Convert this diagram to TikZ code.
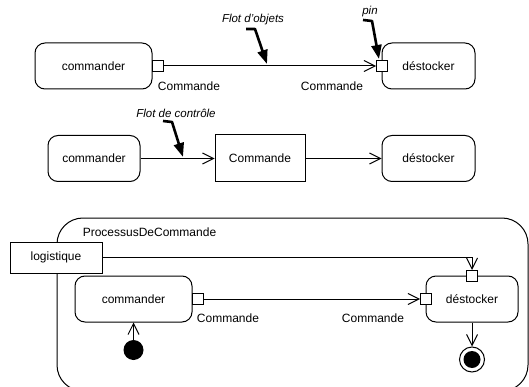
\documentclass[tikz,border=0pt]{standalone}
\usepackage{fontspec}
\setmainfont{Liberation Sans}
\usetikzlibrary{arrows.meta}
\begin{document}
\begin{tikzpicture}[x=1pt,y=-1pt,
  font=\fontsize{12}{14}\selectfont,
  action/.style={draw, line width=1pt, rounded corners=10pt,
    minimum width=#1, minimum height=46pt, inner sep=0pt},
  objbox/.style={draw, line width=1pt, minimum width=90pt,
    minimum height=47pt, inner sep=0pt},
  pinbox/.style={draw, fill=white, line width=1pt, minimum size=11pt, inner sep=0pt},
  flow/.style={line width=1pt, -{Straight Barb[length=11pt,width=11pt,line width=1pt]}},
  callout/.style={line width=2.6pt, line join=round,
    -{Triangle[length=14pt,width=10pt]}},
  note/.style={font=\fontsize{11.5}{13}\selectfont\itshape, inner sep=0pt},
  lbl/.style={inner sep=0pt}]
\useasboundingbox (0,0) rectangle (529,387);

% --- object flow between two pins
\node[action=117pt] (c1) at (93.5,66) {commander};
\node[pinbox] (c1out) at (157.5,66) {};
\node[action=93pt] (d1) at (428.5,66) {déstocker};
\node[pinbox] (d1in) at (382,66) {};
\draw[flow] (c1out.east) -- (d1in.west);
\node[lbl] (c1lbl) at (189,86) {Commande};
\node[lbl] (d1lbl) at (332,86) {Commande};

\node[note] (n1) at (253,20) {Flot d'objets};
\coordinate (n1s) at (246,29);
\coordinate (n1t) at (267,64);
\draw[callout] (n1s) -- (255,29) -- (n1t);

\node[note] (n2) at (370,12) {pin};
\coordinate (n2s) at (363,20);
\coordinate (n2t) at (379,59);
\draw[callout] (n2s) -- (372,21) -- (n2t);

% --- control flow through an object node
\node[action=92pt] (c2) at (94,158.5) {commander};
\node[objbox] (k2) at (260,158.5) {Commande};
\node[action=93pt] (d2) at (428.5,158.5) {déstocker};
\draw[flow] (c2.east) -- (k2.west);
\draw[flow] (k2.east) -- (d2.west);

\node[note] (n3) at (176,113) {Flot de contrôle};
\coordinate (n3s) at (163,121);
\coordinate (n3t) at (183,157);
\draw[callout] (n3s) -- (172,122) -- (n3t);

% --- activity with parameter
\draw[line width=1pt, rounded corners=26pt] (57,218) rectangle (528,391);
\node[lbl] (proc) at (149.5,232) {ProcessusDeCommande};
\node[objbox, fill=white, minimum width=92pt, minimum height=31pt] (lg) at (56,257.5) {logistique};

\node[action=117pt] (c3) at (133.5,299) {commander};
\node[pinbox] (c3out) at (198,299) {};
\node[action=92pt] (d3) at (472,299) {déstocker};
\node[pinbox] (d3in) at (426,299) {};
\node[pinbox] (d3top) at (472,276) {};
\draw[flow] (c3out.east) -- (d3in.west);
\node[lbl] (c3lbl) at (228,318) {Commande};
\node[lbl] (d3lbl) at (373,318) {Commande};
\draw[flow] (lg.east) -| (d3top.north);

\node[circle, fill=black, minimum size=20pt, inner sep=0pt] (ini) at (133.5,350) {};
\draw[flow] (ini.north) -- (c3.south);

\node[circle, draw, line width=1pt, minimum size=25pt, inner sep=0pt] (fin) at (472,359.5) {};
\node[circle, fill=black, minimum size=17pt, inner sep=0pt] (finc) at (fin.center) {};
\draw[flow] (d3.south) -- (fin.north);
\end{tikzpicture}
\end{document}
